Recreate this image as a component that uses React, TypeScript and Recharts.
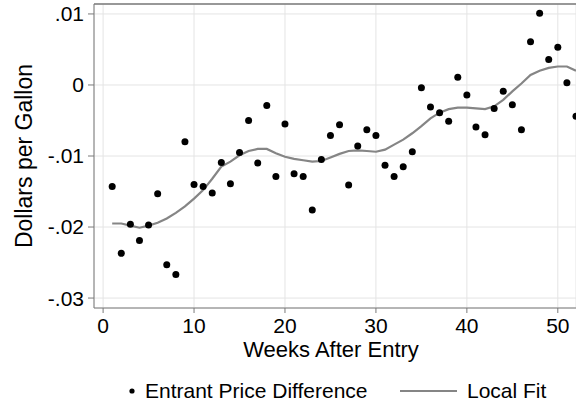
import React from 'react';
import {
  ComposedChart,
  Scatter,
  Line,
  XAxis,
  YAxis,
  CartesianGrid,
  ReferenceLine,
} from 'recharts';

const weeks = [
  1, 2, 3, 4, 5, 6, 7, 8, 9, 10, 11, 12, 13, 14, 15, 16, 17, 18, 19, 20, 21, 22, 23, 24, 25, 26,
  27, 28, 29, 30, 31, 32, 33, 34, 35, 36, 37, 38, 39, 40, 41, 42, 43, 44, 45, 46, 47, 48, 49, 50,
  51, 52,
];

const priceDiff = [
  -0.0143, -0.0237, -0.0196, -0.0219, -0.0197, -0.0153, -0.0253, -0.0267, -0.008, -0.014,
  -0.0143, -0.0152, -0.0109, -0.0139, -0.0095, -0.005, -0.011, -0.0029, -0.0129, -0.0055,
  -0.0125, -0.0129, -0.0176, -0.0105, -0.0071, -0.0056, -0.0141, -0.0086, -0.0063, -0.0071,
  -0.0113, -0.0129, -0.0115, -0.0094, -0.0004, -0.0031, -0.0039, -0.0051, 0.0011, -0.0014,
  -0.0059, -0.007, -0.0033, -0.0009, -0.0028, -0.0063, 0.0061, 0.0101, 0.0036, 0.0053, 0.0003,
  -0.0044,
];

const localFit = [
  -0.0195, -0.0195, -0.0198, -0.0201, -0.0198, -0.0194, -0.0188, -0.018, -0.0171, -0.016,
  -0.0148, -0.0132, -0.0115, -0.0108, -0.0099, -0.0093, -0.009, -0.009, -0.0096, -0.0101,
  -0.0104, -0.0106, -0.0108, -0.0107, -0.0102, -0.0097, -0.0093, -0.0092, -0.0093, -0.0094,
  -0.0091, -0.0084, -0.0077, -0.0068, -0.0058, -0.0047, -0.0039, -0.0034, -0.0032, -0.0032,
  -0.0033, -0.0034, -0.003, -0.0021, -0.0009, 0.0002, 0.0014, 0.002, 0.0024, 0.0026, 0.0026,
  0.002,
];

const xTicks = [0, 10, 20, 30, 40, 50];
const yTicks = [-0.03, -0.02, -0.01, 0, 0.01];

const data = weeks.map((week, i) => ({ week, price: priceDiff[i], fit: localFit[i] }));

const FONT = 'Liberation Sans, Arial, sans-serif';
const FRAME = '#7a7a7a';
const GRID = '#e4e4e4';
const FIT = '#858585';

// Stata-style labels: .01, 0, -.01 ...
const fmtY = (v: number) => {
  if (v === 0) return '0';
  return v.toFixed(2).replace('0.', '.');
};

const dot = (props: any) => <circle cx={props.cx} cy={props.cy} r={3.5} fill="#000" />;

const yLabel = (props: any) => {
  const { viewBox } = props;
  const cx = 24;
  const cy = viewBox.y + viewBox.height / 2;
  return (
    <text
      x={cx}
      y={cy}
      transform={`rotate(-90, ${cx}, ${cy})`}
      textAnchor="middle"
      dominantBaseline="central"
      fontSize={23}
      fontFamily={FONT}
      fill="#000"
    >
      Dollars per Gallon
    </text>
  );
};

export default function App() {
  return (
    <div style={{ position: 'relative', width: 576, height: 404, background: '#fff' }}>
      <style>{`body{margin:0}`}</style>
      <ComposedChart
        width={576}
        height={404}
        data={data}
        margin={{ top: 4, right: 0, bottom: 0, left: 0 }}
      >
        <CartesianGrid stroke={GRID} strokeWidth={1} />
        <XAxis
          dataKey="week"
          type="number"
          domain={[-1, 52]}
          ticks={xTicks}
          allowDataOverflow
          height={96}
          tickSize={5}
          tickMargin={5}
          stroke={FRAME}
          tick={{ fontSize: 21, fill: '#000', fontFamily: FONT }}
          label={{
            value: 'Weeks After Entry',
            position: 'insideBottom',
            offset: 47,
            dx: -4,
            fontSize: 22,
            fill: '#000',
            fontFamily: FONT,
          }}
        />
        <YAxis
          type="number"
          domain={[-0.0314, 0.0114]}
          ticks={yTicks}
          allowDataOverflow
          width={94}
          tickSize={6}
          tickMargin={4}
          stroke={FRAME}
          tickFormatter={fmtY}
          tick={{ fontSize: 21, fill: '#000', fontFamily: FONT }}
          label={yLabel}
        />
        <ReferenceLine y={0.0114} stroke={FRAME} strokeWidth={1.5} ifOverflow="extendDomain" />
        <Line
          dataKey="fit"
          type="linear"
          stroke={FIT}
          strokeWidth={2.2}
          dot={false}
          activeDot={false}
          isAnimationActive={false}
        />
        <Scatter dataKey="price" fill="#000" shape={dot} isAnimationActive={false} />
      </ComposedChart>
      <svg
        width={576}
        height={404}
        style={{ position: 'absolute', left: 0, top: 0, pointerEvents: 'none' }}
      >
        <circle cx={132} cy={391} r={2.6} fill="#000" />
        <text x={145} y={397.5} fontSize={21} fontFamily={FONT} fill="#000">
          Entrant Price Difference
        </text>
        <line x1={400} y1={391} x2={457} y2={391} stroke={FIT} strokeWidth={2} />
        <text x={467} y={397.5} fontSize={21} fontFamily={FONT} fill="#000">
          Local Fit
        </text>
      </svg>
    </div>
  );
}
